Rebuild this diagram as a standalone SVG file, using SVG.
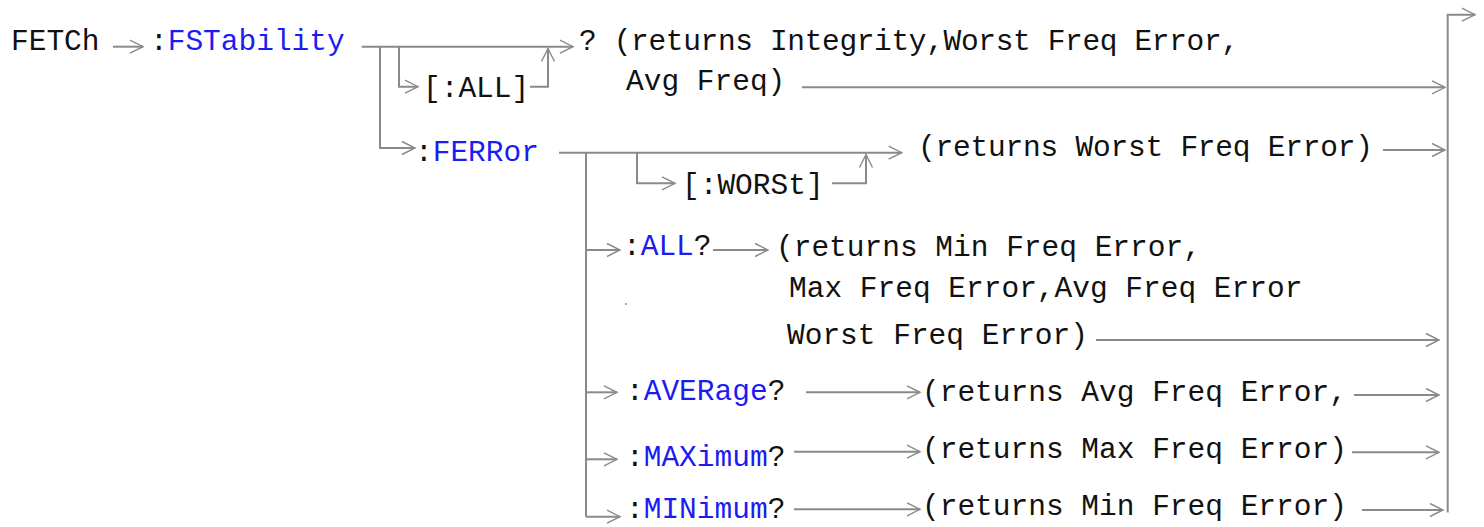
<svg xmlns="http://www.w3.org/2000/svg" width="1484" height="527" viewBox="0 0 1484 527">
<defs>
<marker id="ah" markerUnits="userSpaceOnUse" markerWidth="20" markerHeight="20" viewBox="-15 -10 20 20" refX="0" refY="0" orient="auto">
<path d="M-13,-6.5 L0,0 L-13,6.5" fill="none" stroke="#8a8a8a" stroke-width="1.4"/>
</marker>
<style>
text{font-family:"Liberation Mono","Courier New",monospace;font-size:29.5px;fill:#111}
.b{fill:#1c1cf2}
.c{fill:none;stroke:#8a8a8a;stroke-width:2}
.a{marker-end:url(#ah)}
</style>
</defs>
<g id="connectors">
<path class="c a" d="M113,46.7 H143"/>
<path class="c a" d="M361.7,46.7 H573"/>
<path class="c a" d="M380,46.7 V148 H415"/>
<path class="c a" d="M399,46.7 V86.7 H418"/>
<path class="c a" d="M530,86.7 H548 V48.5"/>
<path class="c a" d="M802,87.3 H1445"/>
<path class="c a" d="M1447.7,512.5 V14.7 H1475"/>
<path class="c a" d="M559,152.7 H901.7"/>
<path class="c a" d="M637,152.7 V183.3 H675"/>
<path class="c a" d="M832,183.3 H866 V154.5"/>
<path class="c a" d="M1383,150 H1445"/>
<path class="c" d="M586,152.7 V516.7"/>
<path class="c a" d="M586,250 H620"/>
<path class="c a" d="M713,250 H768"/>
<path class="c a" d="M1096,340 H1439"/>
<path class="c a" d="M586,392.3 H617"/>
<path class="c a" d="M806,392.3 H920"/>
<path class="c a" d="M1354,395 H1439"/>
<path class="c a" d="M586,459.3 H617"/>
<path class="c a" d="M794,451.7 H920"/>
<path class="c a" d="M1352,452.3 H1439"/>
<path class="c a" d="M586,516.7 H620"/>
<path class="c a" d="M794,509.3 H920"/>
<path class="c a" d="M1362,510 H1443"/>
<circle cx="626" cy="304" r="1" fill="#8a8a8a"/>
</g>
<g id="fetch"><text x="11" y="49.5">FETCh</text></g>
<g id="fstability"><text x="150" y="50">:<tspan class="b">FSTability</tspan></text></g>
<g id="query-result"><text x="579" y="50" textLength="660">? (returns Integrity,Worst Freq Error,</text><text x="626" y="90">Avg Freq)</text></g>
<g id="all-opt"><text x="423" y="97">[:ALL]</text></g>
<g id="ferror"><text x="415" y="161">:<tspan class="b">FERRor</tspan></text></g>
<g id="worst-result"><text x="918" y="156" textLength="455">(returns Worst Freq Error)</text></g>
<g id="worst-opt"><text x="682" y="194">[:WORSt]</text></g>
<g id="all-q"><text x="623" y="255">:<tspan class="b">ALL</tspan>?</text></g>
<g id="all-result"><text x="776" y="256">(returns Min Freq Error,</text><text x="789" y="297">Max Freq Error,Avg Freq Error</text><text x="787" y="344">Worst Freq Error)</text></g>
<g id="average"><text x="626" y="400">:<tspan class="b">AVERage</tspan>?</text></g>
<g id="average-result"><text x="922" y="401">(returns Avg Freq Error,</text></g>
<g id="maximum"><text x="626" y="466">:<tspan class="b">MAXimum</tspan>?</text></g>
<g id="maximum-result"><text x="922" y="458">(returns Max Freq Error)</text></g>
<g id="minimum"><text x="626" y="518">:<tspan class="b">MINimum</tspan>?</text></g>
<g id="minimum-result"><text x="922" y="515">(returns Min Freq Error)</text></g>
</svg>
